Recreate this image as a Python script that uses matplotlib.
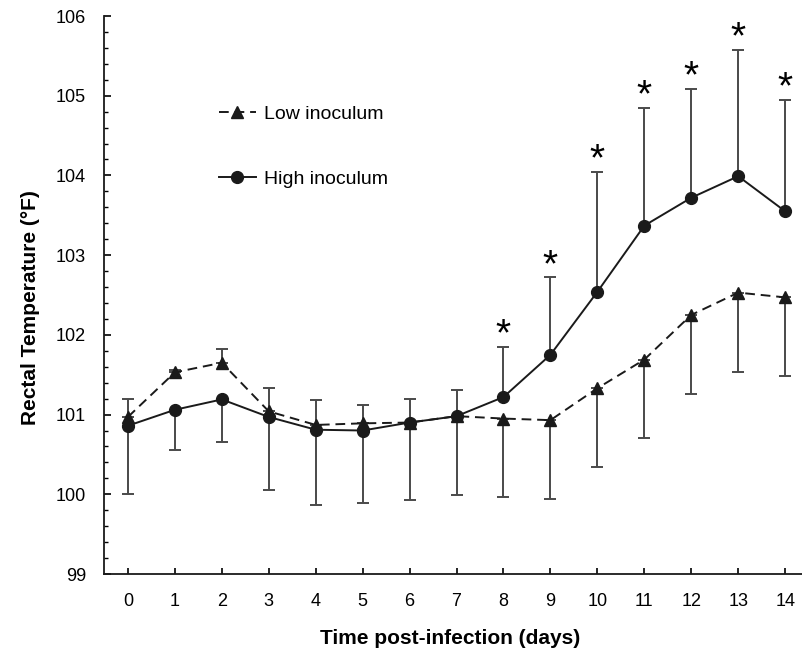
import numpy as np
import matplotlib.pyplot as plt
from matplotlib.ticker import MultipleLocator

plt.rcParams['font.family'] = ['Liberation Sans', 'DejaVu Sans']

# Data

days = list(range(15))
low_mean = [100.97, 101.53, 101.65, 101.04, 100.87, 100.89, 100.90, 100.98,
            100.95, 100.93, 101.33, 101.69, 102.25, 102.53, 102.47]
low_err = [0.22, 0.03, 0.17, 0.29, 0.31, 0.23, 0.30, 0.33,
           0.99, 0.99, 0.99, 0.99, 0.99, 1.00, 0.99]
high_mean = [100.86, 101.06, 101.19, 100.97, 100.81, 100.80, 100.90, 100.98,
             101.22, 101.75, 102.54, 103.37, 103.72, 103.99, 103.55]
high_err = [0.86, 0.51, 0.53, 0.91, 0.95, 0.91, 0.97, 0.99,
            0.63, 0.97, 1.50, 1.48, 1.36, 1.58, 1.40]
# days where high differs significantly (asterisk); error bars flip there
signif = [False] * 8 + [True] * 7

# Plotting

fig = plt.figure(figsize=(8.03, 6.53), dpi=100)
ax = fig.add_axes([104 / 803, 1 - 574 / 653, 1 - 104 / 803, 558 / 653])

sig = np.array(signif)
low_err = np.array(low_err)
high_err = np.array(high_err)

# one-sided error bars: away from the other curve
low_yerr = [np.where(sig, low_err, 0), np.where(sig, 0, low_err)]
high_yerr = [np.where(sig, 0, high_err), np.where(sig, high_err, 0)]

bar_kw = dict(fmt='none', ecolor='#4a4a4a', elinewidth=1.4, capsize=4, capthick=1.4, zorder=2)
ax.errorbar(days, low_mean, yerr=low_yerr, **bar_kw)
ax.errorbar(days, high_mean, yerr=high_yerr, **bar_kw)

ax.plot(days, low_mean, color='#1a1a1a', linestyle=(0, (5, 3)), linewidth=1.4,
        marker='^', markersize=9, label='Low inoculum', zorder=3)
ax.plot(days, high_mean, color='#1a1a1a', linestyle='-', linewidth=1.4,
        marker='o', markersize=8.5, label='High inoculum', zorder=3)

# asterisks above the significant days
for d, m, e, s in zip(days, high_mean, high_err, signif):
    if s:
        ax.text(d, m + e + 0.02, '*', ha='center', va='baseline', fontsize=28,
                color='black')

ax.set_xlim(-0.51, 14.38)
ax.set_ylim(99, 106)
ax.set_xticks(days)
ax.yaxis.set_major_locator(MultipleLocator(1))
ax.yaxis.set_minor_locator(MultipleLocator(0.2))

for side in ['top', 'right']:
    ax.spines[side].set_visible(False)
for side in ['left', 'bottom']:
    ax.spines[side].set_linewidth(1.3)
    ax.spines[side].set_color('#1a1a1a')

ax.tick_params(axis='y', which='major', direction='in', length=5, width=1.2,
               labelsize=13, pad=13)
ax.tick_params(axis='y', which='minor', direction='in', length=3, width=1.0)
ax.tick_params(axis='x', which='major', direction='in', length=4, width=1.2,
               labelsize=13, pad=14)

ax.set_ylabel('Rectal Temperature (°F)', fontsize=15, fontweight='bold')
ax.yaxis.set_label_coords(-0.092, 0.478)
ax.set_xlabel('Time post-infection (days)', fontsize=15, fontweight='bold')
ax.xaxis.set_label_coords(0.495, -0.098)

ax.legend(loc='upper left', bbox_to_anchor=(0.139, 0.872), frameon=False,
          fontsize=14, labelspacing=2.45, handlelength=1.9, handletextpad=0.45)

fig.savefig('out.png', dpi=100)
